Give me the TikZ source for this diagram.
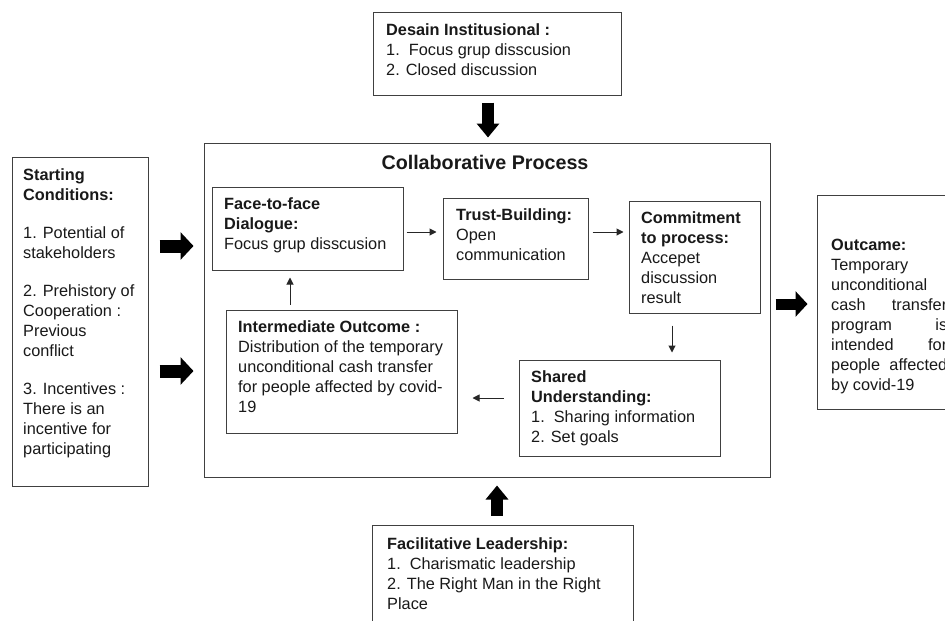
\documentclass[tikz,border=0pt]{standalone}
\usepackage{fontspec}
\setmainfont{Liberation Sans}
\usetikzlibrary{arrows.meta,fit}
\tikzset{
  box/.style={draw=black!75, line width=1pt, inner sep=0pt},
  txt/.style={font=\fontsize{16.3}{20}\selectfont, inner sep=0pt, align=left, anchor=north west, text=black!90},
  sarrow/.style={draw=black!85, line width=1pt, -{Triangle[length=7pt,width=7pt]}},
  blkv/.style={line width=12pt, -{Triangle[length=14pt,width=22pt]}},
  blkh/.style={line width=13pt, -{Triangle[length=13pt,width=27pt]}},
}
\begin{document}
\begin{tikzpicture}[x=1pt,y=-1pt]
\useasboundingbox (0,0) rectangle (945,621);
\clip (0,0) rectangle (945,621);
\fill[white] (0,0) rectangle (945,621);

% boxes
\node[box, fit={(373,12) (621,95)}] (topbox) {};
\node[box, fit={(12,157) (148,486)}] (leftbox) {};
\node[box, fit={(204,143) (770,477)}] (main) {};
\node[box, fit={(817,195) (965,409)}] (rightbox) {};
\node[box, fit={(372,525) (633,640)}] (botbox) {};
\node[box, fit={(212,187) (403,270)}] (face) {};
\node[box, fit={(443,198) (588,279)}] (trust) {};
\node[box, fit={(629,201) (760,313)}] (commit) {};
\node[box, fit={(519,360) (720,456)}] (shared) {};
\node[box, fit={(226,310) (457,433)}] (inter) {};

% texts
\node[txt] (topt) at (386,23) {\textbf{Desain Institusional :}\\1.\ \ Focus grup disscusion\\2. Closed discussion};
\node[txt] (leftt) at (23,168) {\textbf{Starting}\\\textbf{Conditions:}\\[18pt]1. Potential of\\stakeholders\\[18pt]2. Prehistory of\\Cooperation :\\Previous\\conflict\\[18pt]3. Incentives :\\There is an\\incentive for\\participating};
\node[anchor=north, inner sep=0pt, font=\fontsize{19.7}{24}\selectfont\bfseries, text=black!90] (title) at (485,155) {Collaborative Process};
\node[txt] (facet) at (224,197) {\textbf{Face-to-face}\\\textbf{Dialogue:}\\Focus grup disscusion};
\node[txt] (trustt) at (456,208) {\textbf{Trust-Building:}\\Open\\communication};
\node[txt] (committ) at (641,211) {\textbf{Commitment}\\\textbf{to process:}\\Accepet\\discussion\\result};
\node[txt] (sharedt) at (531,370) {\textbf{Shared}\\\textbf{Understanding:}\\1.\ \ Sharing information\\2. Set goals};
\node[txt] (intert) at (238,320) {\textbf{Intermediate Outcome :}\\Distribution of the temporary\\unconditional cash transfer\\for people affected by covid-\\19};
\node[txt] (rightt) at (831,239) {\textbf{Outcame:}\\Temporary\\unconditional\\\hbox to 116pt{cash\hfill transfer}\\\hbox to 116pt{program\hfill is}\\\hbox to 116pt{intended\hfill for}\\\hbox to 116pt{people\hfill affected}\\by covid-19};
\node[txt] (bott) at (387,537) {\textbf{Facilitative Leadership:}\\1.\ \ Charismatic leadership\\2. The Right Man in the Right\\Place};

% helper coordinates
\coordinate (ya) at (0,232);
\coordinate (xb) at (672,0);
\coordinate (yc) at (0,398);
\coordinate (xd) at (290,0);
\coordinate (xtop) at (488,0);
\coordinate (xbot) at (497,0);
\coordinate (yl1) at (0,246);
\coordinate (yl2) at (0,371);
\coordinate (yr) at (0,304);

% small arrows
\draw[sarrow, shorten <=3pt, shorten >=6pt] (face.east |- ya) -- (trust.west |- ya);
\draw[sarrow, shorten <=4pt, shorten >=5pt] (trust.east |- ya) -- (commit.west |- ya);
\draw[sarrow, shorten <=12pt, shorten >=7pt] (commit.south -| xb) -- (shared.north -| xb);
\draw[sarrow, shorten <=15pt, shorten >=15pt] (shared.west |- yc) -- (inter.east |- yc);
\draw[sarrow, shorten <=5pt, shorten >=7pt] (inter.north -| xd) -- (face.south -| xd);

% block arrows
\draw[blkv, shorten <=7pt, shorten >=5pt] (topbox.south -| xtop) -- (main.north -| xtop);
\draw[blkv, shorten <=9pt, shorten >=8pt] (botbox.north -| xbot) -- (main.south -| xbot);
\draw[blkh, shorten <=11pt, shorten >=10pt] (leftbox.east |- yl1) -- (main.west |- yl1);
\draw[blkh, shorten <=11pt, shorten >=10pt] (leftbox.east |- yl2) -- (main.west |- yl2);
\draw[line width=11pt, -{Triangle[length=12pt,width=25pt]}, shorten <=5pt, shorten >=9pt] (main.east |- yr) -- (rightbox.west |- yr);
\end{tikzpicture}
\end{document}
